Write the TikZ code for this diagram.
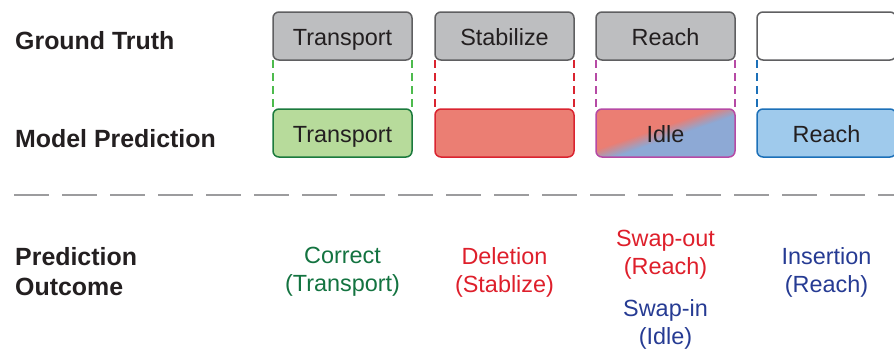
\documentclass[tikz,border=0pt]{standalone}
\usepackage{fontspec}
\setmainfont{Liberation Sans}
\usetikzlibrary{calc}

\definecolor{gtfill}{HTML}{BDBEC0}
\definecolor{gtedge}{HTML}{5F5F61}
\definecolor{okfill}{HTML}{B7DB9B}
\definecolor{okedge}{HTML}{1B7A3D}
\definecolor{okline}{HTML}{4DBB4D}
\definecolor{okText}{HTML}{137340}
\definecolor{delfill}{HTML}{EB7E73}
\definecolor{deledge}{HTML}{DA2430}
\definecolor{delText}{HTML}{DE1F2B}
\definecolor{swapedge}{HTML}{B64AA5}
\definecolor{swapblue}{HTML}{8DA9D5}
\definecolor{insfill}{HTML}{9FCAEC}
\definecolor{insedge}{HTML}{1C70B8}
\definecolor{insText}{HTML}{263B93}
\definecolor{inkgray}{HTML}{231F20}
\definecolor{sepgray}{HTML}{9C9C9E}

\begin{document}
\begin{tikzpicture}[x=1bp, y=-1bp,
	box/.style={draw, rounded corners=6bp, line width=1.5bp, minimum width=139bp, minimum height=48bp,
		inner sep=0pt, outer sep=0pt, text height=22bp, text depth=4bp, text=inkgray,
		font=\fontsize{23.5}{28}\selectfont},
	gtbox/.style={box, draw=gtedge, fill=gtfill},
	rowlabel/.style={anchor=base west, inner sep=0pt, text=inkgray, font=\fontsize{25}{30}\selectfont\bfseries},
	outcome/.style={align=center, inner sep=0pt, font=\fontsize{23.5}{28}\selectfont},
	okdash/.style={okline, line width=1.7bp, dash pattern=on 8bp off 5bp},
	deldash/.style={deledge, line width=1.7bp, dash pattern=on 8bp off 5bp},
	swapdash/.style={swapedge, line width=1.7bp, dash pattern=on 8bp off 5bp},
	insdash/.style={insedge, line width=1.7bp, dash pattern=on 8bp off 5bp}]
	\useasboundingbox (0,0) rectangle (894,350);

	% row labels
	\node[rowlabel] (lgt) at (15,49) {Ground Truth};
	\node[rowlabel] (lmp) at (15,147) {Model Prediction};
	\node[rowlabel, anchor=west, align=left] (lout) at (15,272) {Prediction\\Outcome};

	% ground truth
	\node[gtbox] (gt1) at (342.5,36) {Transport};
	\node[gtbox] (gt2) at (504.5,36) {Stabilize};
	\node[gtbox] (gt3) at (665.5,36) {Reach};
	\node[gtbox, fill=white] (gt4) at (826.5,36) {};

	% model prediction
	\node[box, draw=okedge, fill=okfill] (mp1) at (342.5,133) {Transport};
	\node[box, draw=deledge, fill=delfill] (mp2) at (504.5,133) {};
	\node[box, draw=swapedge, fill=swapblue, path picture={
		\foreach \k [evaluate=\k as \p using int(5*\k), evaluate=\k as \s using 20-2*\k] in {0,...,20}
			\fill[delfill!\p!swapblue] ([xshift=-20bp]path picture bounding box.south west)
				-- ([xshift=\s bp]path picture bounding box.south west)
				-- ([xshift=\s bp]path picture bounding box.north east)
				-- ([xshift=-20bp]path picture bounding box.north west) -- cycle;
	}] (mp3) at (665.5,133) {Idle};
	\node[box, draw=insedge, fill=insfill] (mp4) at (826.5,133) {Reach};

	\foreach \i/\d in {1/okdash, 2/deldash, 3/swapdash, 4/insdash} {
		\draw[\d] (gt\i.south west) -- (mp\i.north west);
		\draw[\d] (gt\i.south east) -- (mp\i.north east);
	}

	% separator
	\draw[sepgray, line width=2bp, dash pattern=on 35bp off 13bp] (14,195) -- (894,195);

	% outcomes
	\node[outcome, text=okText] (o1) at (342.5,272) {Correct\\(Transport)};
	\node[outcome, text=delText] (o2) at (504.5,272) {Deletion\\(Stablize)};
	\node[outcome, text=delText] (o3a) at (665.5,255) {Swap-out\\(Reach)};
	\node[outcome, text=insText] (o3b) at (665.5,324) {Swap-in\\(Idle)};
	\node[outcome, text=insText] (o4) at (826.5,272) {Insertion\\(Reach)};
\end{tikzpicture}
\end{document}
